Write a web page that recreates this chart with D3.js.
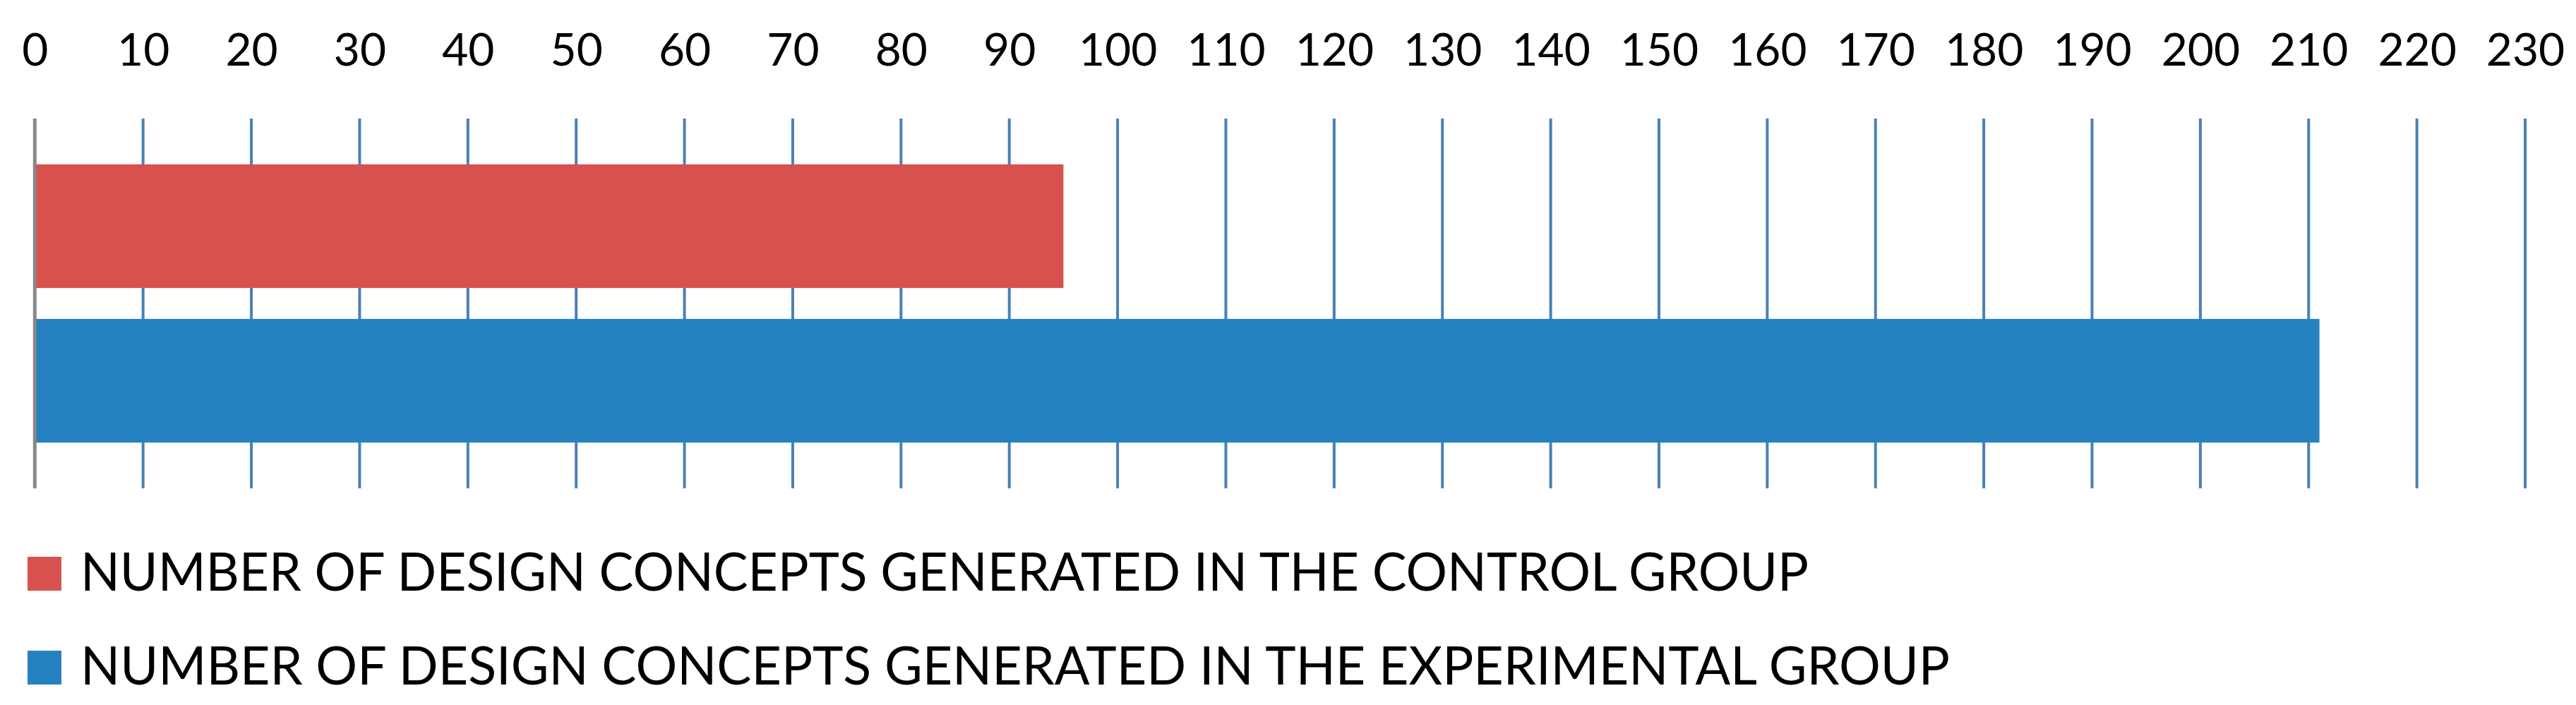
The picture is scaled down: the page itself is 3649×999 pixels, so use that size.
<!DOCTYPE html>
<html>
<head>
<meta charset="utf-8">
<script src="https://cdn.jsdelivr.net/npm/d3@7"></script>
<style>
  html, body { margin: 0; padding: 0; background: #ffffff; }
  svg { display: block; }
</style>
</head>
<body>
<svg id="chart" width="3649" height="999"></svg>
<script>
// ---- data ----
const categories = ["Control group", "Experimental group"];
const values = [95, 211];
const seriesLabels = [
  "NUMBER OF DESIGN CONCEPTS GENERATED IN THE CONTROL GROUP",
  "NUMBER OF DESIGN CONCEPTS GENERATED IN THE EXPERIMENTAL GROUP"
];
const tickValues = [0,10,20,30,40,50,60,70,80,90,100,110,120,130,140,150,160,170,180,190,200,210,220,230];
const colors = ["#d9514e", "#2681c0"];

// ---- layout ----
const svg = d3.select("#chart");
const fontFamily = "Lato, 'Open Sans', sans-serif";

const x = d3.scaleLinear().domain([0, 230]).range([49.3, 3577]);
const y = d3.scaleBand().domain(categories).range([168, 692])
  .paddingInner(0.2).paddingOuter(0.296);

// gridlines (non-zero ticks)
svg.append("g").selectAll("line")
  .data(tickValues.filter(d => d !== 0))
  .join("line")
  .attr("x1", d => x(d)).attr("x2", d => x(d))
  .attr("y1", 168).attr("y2", 692)
  .attr("stroke", "#4a80b6").attr("stroke-width", 4);

// bars
svg.append("g").selectAll("rect")
  .data(categories)
  .join("rect")
  .attr("x", x(0))
  .attr("y", d => y(d))
  .attr("width", (d, i) => x(values[i]) - x(0))
  .attr("height", y.bandwidth())
  .attr("fill", (d, i) => colors[i]);

// zero axis line
svg.append("line")
  .attr("x1", x(0)).attr("x2", x(0))
  .attr("y1", 168).attr("y2", 692)
  .attr("stroke", "#888888").attr("stroke-width", 5);

// tick labels via axis
const axis = d3.axisTop(x).tickValues(tickValues).tickSize(0).tickPadding(0)
  .tickFormat(d3.format("d"));
const axisG = svg.append("g").attr("transform", "translate(0,93)").call(axis);
axisG.select(".domain").remove();
axisG.selectAll("text")
  .attr("y", 0).attr("dy", 0)
  .attr("font-family", fontFamily)
  .attr("font-size", 64)
  .attr("fill", "#000000");

// legend
const legendY = [837, 970];
const legendWidths = [2448, 2648];
const legend = svg.append("g").selectAll("g")
  .data(seriesLabels)
  .join("g");
legend.append("rect")
  .attr("x", 39).attr("width", 48)
  .attr("y", (d, i) => legendY[i] - 48).attr("height", 48)
  .attr("fill", (d, i) => colors[i]);
legend.append("text")
  .attr("x", 114)
  .attr("y", (d, i) => legendY[i])
  .attr("font-family", fontFamily)
  .attr("font-size", 75)
  .attr("fill", "#000000")
  .attr("textLength", (d, i) => legendWidths[i])
  .attr("lengthAdjust", "spacingAndGlyphs")
  .text(d => d);
</script>
</body>
</html>
